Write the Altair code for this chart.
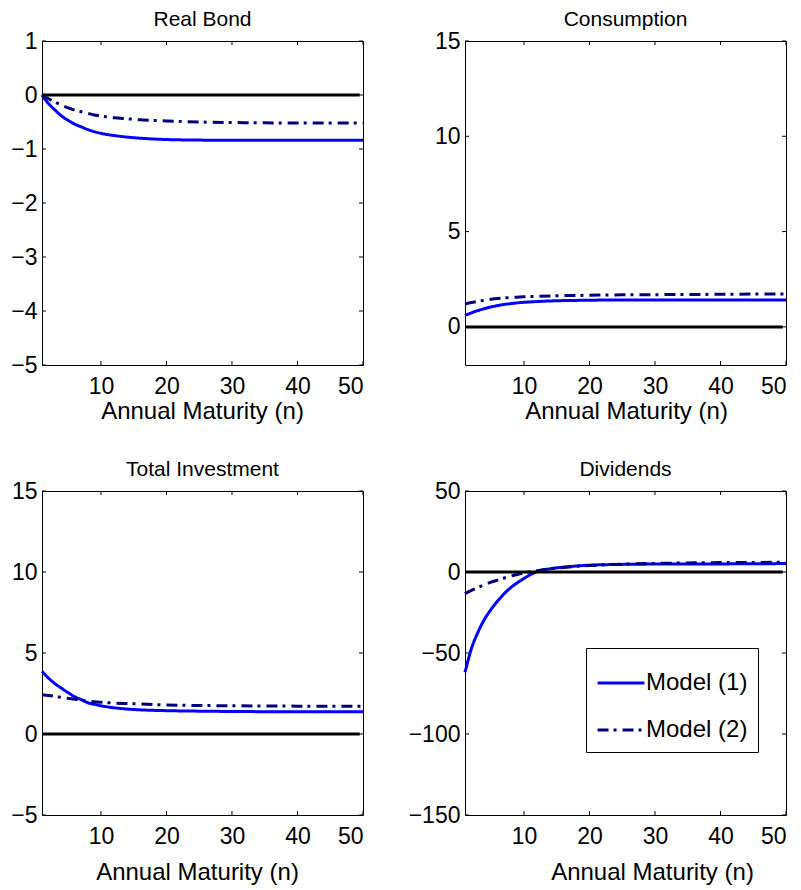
import altair as alt
import pandas as pd

FONT = "Liberation Sans"
MODELS = ["Model (1)", "Model (2)"]
COLORS = ["#0000ff", "#00007f"]
DASHES = [[1, 0], [11, 5, 3, 6]]

N = [1, 2, 3, 4, 5, 6, 7, 8, 9, 10, 12, 14, 16, 18, 20, 25, 30, 35, 40, 45, 50]
X_TICKS = [10, 20, 30, 40, 50]
ZERO_N = [1, 49.5]
ZERO_V = [0, 0]

TITLES = ["Real Bond", "Consumption", "Total Investment", "Dividends"]

bond_m1 = [0, -0.16, -0.28, -0.39, -0.47, -0.54, -0.59, -0.64, -0.68, -0.71, -0.75,
           -0.78, -0.80, -0.815, -0.825, -0.835, -0.84, -0.84, -0.84, -0.84, -0.84]
bond_m2 = [0, -0.07, -0.13, -0.19, -0.24, -0.28, -0.31, -0.34, -0.37, -0.39, -0.42,
           -0.44, -0.46, -0.47, -0.48, -0.50, -0.51, -0.515, -0.52, -0.52, -0.52]
cons_m1 = [0.60, 0.74, 0.86, 0.96, 1.05, 1.12, 1.18, 1.22, 1.26, 1.29, 1.33,
           1.36, 1.38, 1.39, 1.40, 1.41, 1.41, 1.41, 1.41, 1.41, 1.41]
cons_m2 = [1.20, 1.28, 1.34, 1.40, 1.45, 1.49, 1.52, 1.54, 1.56, 1.58, 1.60,
           1.62, 1.64, 1.65, 1.66, 1.68, 1.69, 1.70, 1.71, 1.72, 1.72]
inv_m1 = [3.87, 3.45, 3.10, 2.82, 2.55, 2.30, 2.12, 1.93, 1.83, 1.74, 1.62,
          1.54, 1.49, 1.46, 1.44, 1.41, 1.39, 1.38, 1.38, 1.38, 1.38]
inv_m2 = [2.43, 2.38, 2.32, 2.26, 2.20, 2.14, 2.08, 2.03, 1.99, 1.96, 1.91,
          1.88, 1.85, 1.82, 1.79, 1.76, 1.74, 1.73, 1.72, 1.71, 1.71]
div_m1 = [-62, -47, -37, -29, -23, -17.8, -13.3, -9.6, -6.6, -4.0, 0.3,
          2.0, 3.0, 3.7, 4.2, 4.7, 4.9, 5.0, 5.0, 5.1, 5.2]
div_m2 = [-13.4, -11.3, -9.5, -7.8, -6.3, -5.0, -3.7, -2.5, -1.5, -0.6, 0.8,
          1.9, 2.8, 3.5, 4.0, 4.8, 5.3, 5.6, 5.8, 5.9, 6.0]

Y_DOMAINS = [[-5, 1], [-2, 15], [-5, 15], [-150, 50]]
Y_TICKS = [[-5, -4, -3, -2, -1, 0, 1], [0, 5, 10, 15], [-5, 0, 5, 10, 15],
           [-150, -100, -50, 0, 50]]

W, H = 321, 324
TICK_LEN = 4


def panel(idx, m1, m2, title_x, title_y, show_legend):
    df = pd.DataFrame({
        "n": N + N,
        "value": m1 + m2,
        "model": [MODELS[0]] * len(N) + [MODELS[1]] * len(N),
    })
    xs = alt.Scale(domain=[1, 50], nice=False, zero=False)
    ys = alt.Scale(domain=Y_DOMAINS[idx], nice=False, zero=False)
    xenc = alt.X("n:Q", scale=xs, axis=alt.Axis(
        values=X_TICKS, title="Annual Maturity (n)", titleX=title_x, titleY=title_y,
        titleBaseline="alphabetic", titleAlign="center"))
    yenc = alt.Y("value:Q", scale=ys, axis=alt.Axis(values=Y_TICKS[idx], title=None))

    if show_legend:
        leg = alt.Legend(
            title=None, orient="none", legendX=121, legendY=157,
            strokeColor="black", fillColor="white", padding=10,
            symbolType="stroke", symbolSize=2200, symbolStrokeWidth=3,
            labelFont=FONT, labelFontSize=24, labelColor="black",
            labelOffset=0, rowPadding=10, labelLimit=300)
    else:
        leg = None

    lines = alt.Chart(df).mark_line(strokeWidth=3, interpolate="monotone").encode(
        x=xenc, y=yenc,
        color=alt.Color("model:N", scale=alt.Scale(domain=MODELS, range=COLORS), legend=leg),
        strokeDash=alt.StrokeDash("model:N", scale=alt.Scale(domain=MODELS, range=DASHES), legend=leg),
    )
    zero = alt.Chart(pd.DataFrame({"n": ZERO_N, "value": ZERO_V})).mark_line(
        color="black", strokeWidth=3).encode(x=xenc, y=yenc)

    xt = pd.DataFrame({"n": X_TICKS})
    yt = pd.DataFrame({"value": Y_TICKS[idx]})
    xt_bot = alt.Chart(xt).mark_rule(color="black", strokeWidth=1).encode(
        x=xenc, y=alt.value(H), y2=alt.value(H - TICK_LEN))
    xt_top = alt.Chart(xt).mark_rule(color="black", strokeWidth=1).encode(
        x=xenc, y=alt.value(0), y2=alt.value(TICK_LEN))
    yt_left = alt.Chart(yt).mark_rule(color="black", strokeWidth=1).encode(
        y=yenc, x=alt.value(0), x2=alt.value(TICK_LEN))
    yt_right = alt.Chart(yt).mark_rule(color="black", strokeWidth=1).encode(
        y=yenc, x=alt.value(W), x2=alt.value(W - TICK_LEN))

    return alt.layer(lines, zero, xt_bot, xt_top, yt_left, yt_right).properties(
        width=W, height=H,
        title=alt.TitleParams(
            text=TITLES[idx], font=FONT, fontSize=21, fontWeight="normal",
            color="black", baseline="alphabetic", offset=-17, frame="group",
            anchor="middle"),
    )


p1 = panel(0, bond_m1, bond_m2, 160, 53, False)
p2 = panel(1, cons_m1, cons_m2, 161, 53, False)
p3 = panel(2, inv_m1, inv_m2, 155, 64, False)
p4 = panel(3, div_m1, div_m2, 187, 64, True)

chart = alt.concat(p1, p2, p3, p4, columns=2, spacing={"row": 126, "column": 102},
                   bounds="flush").resolve_scale(
    x="independent", y="independent", color="independent", strokeDash="independent"
).resolve_legend(color="independent", strokeDash="independent").configure_view(
    stroke="black", strokeWidth=1
).configure_axis(
    labelFont=FONT, labelFontSize=23, labelColor="black", domain=False, ticks=False,
    grid=False, titleFont=FONT, titleFontSize=24, titleColor="black",
    titleFontWeight="normal"
).configure_axisX(labelPadding=10).configure_axisY(labelPadding=5).properties(
    padding={"left": 2, "top": 0, "right": 0, "bottom": 0},
    background="white",
)

chart.save("out.html", embed_options={"renderer": "svg", "actions": False})
